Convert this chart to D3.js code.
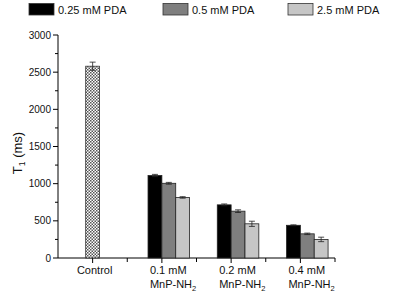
<!DOCTYPE html>
<html>
<head>
<meta charset="utf-8">
<script src="https://cdn.jsdelivr.net/npm/d3@7"></script>
<style>
  body { margin: 0; background: #fff; }
  svg { font-family: Arial, "Liberation Sans", sans-serif; }
</style>
</head>
<body>
<svg id="chart" width="400" height="300"></svg>
<script>
// categories on the x axis (positions 1..4)
const categories = ["Control", "0.1 mM", "0.2 mM", "0.4 mM"];
const series = ["0.25 mM PDA", "0.5 mM PDA", "2.5 mM PDA"];

// control bar
const controlValue = 2580;
const controlErr = 55;

// grouped values, one array per series (for 0.1, 0.2, 0.4 mM MnP-NH2)
const pda025 = [1110, 715, 440];
const pda05 = [1005, 630, 325];
const pda25 = [815, 460, 250];
const pda025Err = [15, 12, 6];
const pda05Err = [12, 18, 10];
const pda25Err = [10, 35, 30];

const yTicks = [0, 500, 1000, 1500, 2000, 2500, 3000];

const colors = ["#000000", "#7f7f7f", "#c6c6c6"];

const svg = d3.select("#chart");

const x = d3.scaleLinear().domain([0.5, 4.5]).range([58, 335]);
const y = d3.scaleLinear().domain([0, 3000]).range([258, 35]);
const bw = 0.2; // bar width in x units

// checker pattern for control
const defs = svg.append("defs");
const pat = defs.append("pattern")
  .attr("id", "checker").attr("patternUnits", "userSpaceOnUse")
  .attr("width", 3).attr("height", 3);
pat.append("rect").attr("width", 3).attr("height", 3).attr("fill", "#ffffff");
pat.append("rect").attr("width", 1.5).attr("height", 1.5).attr("fill", "#555");
pat.append("rect").attr("x", 1.5).attr("y", 1.5).attr("width", 1.5).attr("height", 1.5).attr("fill", "#555");

// legend
const legendX = [29, 163, 288];
series.forEach((s, i) => {
  svg.append("rect")
    .attr("x", legendX[i]).attr("y", 3.5).attr("width", 25).attr("height", 11.5)
    .attr("fill", colors[i]).attr("stroke", "#333").attr("stroke-width", 0.8);
  svg.append("text")
    .attr("x", legendX[i] + 29).attr("y", 13.5)
    .attr("font-size", 11).attr("fill", "#111")
    .text(s);
});

// axes
const yAxis = svg.append("g").attr("transform", "translate(58,0)");
yAxis.append("line").attr("y1", y(3000)).attr("y2", y(0)).attr("stroke", "#000");
d3.range(0, 3001, 250).forEach(v => {
  const major = v % 500 === 0;
  yAxis.append("line")
    .attr("x1", major ? -5 : -3).attr("x2", 0)
    .attr("y1", y(v)).attr("y2", y(v))
    .attr("stroke", "#000");
});
yTicks.forEach(v => {
  yAxis.append("text")
    .attr("x", -7).attr("y", y(v) + 3.5)
    .attr("text-anchor", "end").attr("font-size", 10).attr("fill", "#111")
    .text(v);
});

const xAxis = svg.append("g").attr("transform", "translate(0,258)");
xAxis.append("line").attr("x1", x(0.5)).attr("x2", x(4.5)).attr("stroke", "#000");
d3.range(1, 4.6, 0.5).forEach(v => {
  const major = v % 1 === 0;
  xAxis.append("line")
    .attr("x1", x(v)).attr("x2", x(v))
    .attr("y1", 0).attr("y2", major ? 5 : 4)
    .attr("stroke", "#000");
});

// y label
const yl = svg.append("text")
  .attr("transform", "translate(22,153) rotate(-90)")
  .attr("text-anchor", "middle").attr("font-size", 13).attr("fill", "#111");
yl.append("tspan").text("T");
yl.append("tspan").attr("font-size", 8.5).attr("dy", 3).text("1");
yl.append("tspan").attr("dy", -3).text(" (ms)");

// x labels
svg.append("text")
  .attr("x", x(1) + 2).attr("y", 274)
  .attr("text-anchor", "middle").attr("font-size", 11).attr("fill", "#111")
  .text(categories[0]);
categories.slice(1).forEach((c, i) => {
  const lx = x(i + 2) - 12;
  svg.append("text")
    .attr("x", lx).attr("y", 274)
    .attr("font-size", 11).attr("fill", "#111")
    .text(c);
  const t = svg.append("text")
    .attr("x", lx).attr("y", 288)
    .attr("font-size", 11).attr("fill", "#111");
  t.append("tspan").text("MnP-NH");
  t.append("tspan").attr("font-size", 7.5).attr("dy", 3).text("2");
});

// error bar helper
function errorBar(cx, v, e) {
  const g = svg.append("g").attr("stroke", "#222").attr("stroke-width", 0.8);
  g.append("line").attr("x1", cx).attr("x2", cx).attr("y1", y(v + e)).attr("y2", y(v - e));
  g.append("line").attr("x1", cx - 3).attr("x2", cx + 3).attr("y1", y(v + e)).attr("y2", y(v + e));
  g.append("line").attr("x1", cx - 3).attr("x2", cx + 3).attr("y1", y(v - e)).attr("y2", y(v - e));
}

// control bar
svg.append("rect")
  .attr("x", x(1 - bw / 2)).attr("width", x(1 + bw / 2) - x(1 - bw / 2))
  .attr("y", y(controlValue)).attr("height", y(0) - y(controlValue))
  .attr("fill", "url(#checker)").attr("stroke", "#333").attr("stroke-width", 0.8);
errorBar(x(1), controlValue, controlErr);

// grouped bars
const groups = [pda025, pda05, pda25];
const errs = [pda025Err, pda05Err, pda25Err];
const offsets = [-bw, 0, bw];
groups.forEach((vals, s) => {
  vals.forEach((v, i) => {
    const x0 = x(i + 2 + offsets[s]);
    const x1 = x(i + 2 + offsets[s] + bw);
    svg.append("rect")
      .attr("x", x0).attr("width", x1 - x0)
      .attr("y", y(v)).attr("height", y(0) - y(v))
      .attr("fill", colors[s]).attr("stroke", "#222").attr("stroke-width", 0.8);
    errorBar((x0 + x1) / 2, v, errs[s][i]);
  });
});
</script>
</body>
</html>
